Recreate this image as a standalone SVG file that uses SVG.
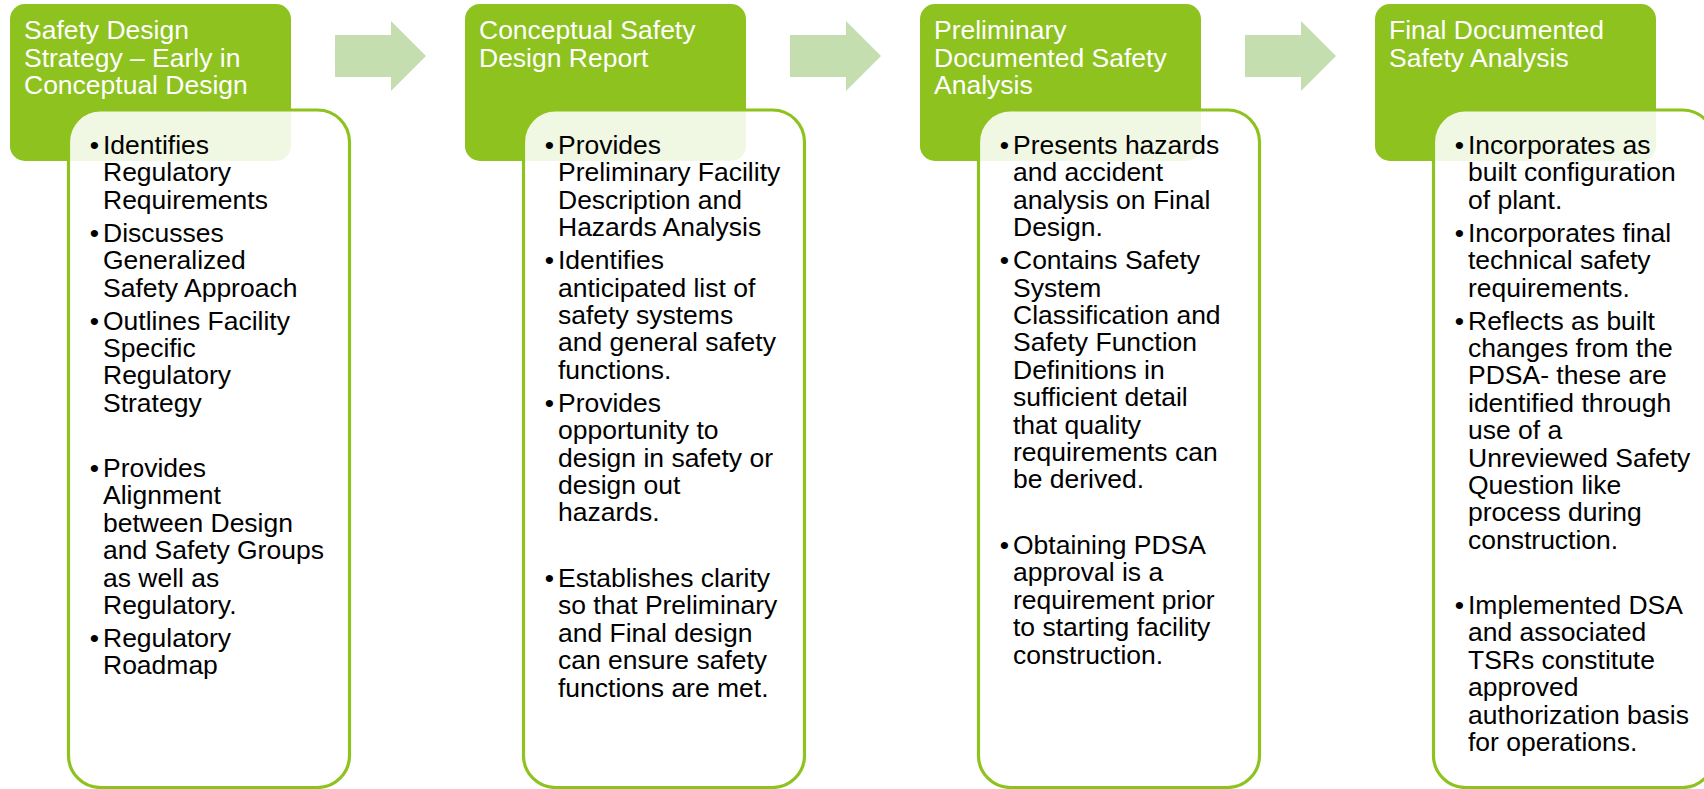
<svg xmlns="http://www.w3.org/2000/svg" width="1704" height="789" viewBox="0 0 1704 789">
<style>
.hd{fill:#8DC21F}
.bd{fill:#ffffff;fill-opacity:0.87;stroke:#8DC21F;stroke-width:3.2}
.ar{fill:#C5DEAF}
.ht{font-family:"Liberation Sans",Arial,sans-serif;font-size:25px;fill:#ffffff}
.bt{font-family:"Liberation Sans",Arial,sans-serif;font-size:25px;fill:#000000}
</style>
<rect width="1704" height="789" fill="#ffffff"/>
<g id="connectors">
<polygon class="ar" points="335,35 391,35 391,21 426,56 391,91 391,77 335,77"/>
<polygon class="ar" points="790,35 846,35 846,21 881,56 846,91 846,77 790,77"/>
<polygon class="ar" points="1245,35 1301,35 1301,21 1336,56 1301,91 1301,77 1245,77"/>
</g>
<g id="node1">
<rect class="hd" x="10" y="4" width="281" height="157" rx="15"/>
<g transform="translate(24,0) scale(1.06,1)"><text class="ht"><tspan x="0" y="39.3">Safety Design</tspan><tspan x="0" y="66.7">Strategy – Early in</tspan><tspan x="0" y="94.3">Conceptual Design</tspan></text></g>
<rect class="bd" x="68.5" y="110" width="281" height="677.5" rx="32"/>
<g transform="translate(103,0) scale(1.06,1)">
<text class="bt"><tspan x="-12.5" y="154">•</tspan><tspan x="-12.5" y="241.8">•</tspan><tspan x="-12.5" y="329.6">•</tspan><tspan x="-12.5" y="477">•</tspan><tspan x="-12.5" y="647">•</tspan></text>
<text class="bt"><tspan x="0" y="154">Identifies</tspan><tspan x="0" y="181.4">Regulatory</tspan><tspan x="0" y="208.8">Requirements</tspan><tspan x="0" y="241.8">Discusses</tspan><tspan x="0" y="269.2">Generalized</tspan><tspan x="0" y="296.6">Safety Approach</tspan><tspan x="0" y="329.6">Outlines Facility</tspan><tspan x="0" y="357">Specific</tspan><tspan x="0" y="384.4">Regulatory</tspan><tspan x="0" y="411.8">Strategy</tspan><tspan x="0" y="477">Provides</tspan><tspan x="0" y="504.4">Alignment</tspan><tspan x="0" y="531.8">between Design</tspan><tspan x="0" y="559.2">and Safety Groups</tspan><tspan x="0" y="586.6">as well as</tspan><tspan x="0" y="614">Regulatory.</tspan><tspan x="0" y="647">Regulatory</tspan><tspan x="0" y="674.4">Roadmap</tspan></text>
</g>
</g>
<g id="node2">
<rect class="hd" x="465" y="4" width="281" height="157" rx="15"/>
<g transform="translate(479,0) scale(1.06,1)"><text class="ht"><tspan x="0" y="39.3">Conceptual Safety</tspan><tspan x="0" y="66.7">Design Report</tspan></text></g>
<rect class="bd" x="523.5" y="110" width="281" height="677.5" rx="32"/>
<g transform="translate(558,0) scale(1.06,1)">
<text class="bt"><tspan x="-12.5" y="154">•</tspan><tspan x="-12.5" y="269.2">•</tspan><tspan x="-12.5" y="411.8">•</tspan><tspan x="-12.5" y="587">•</tspan></text>
<text class="bt"><tspan x="0" y="154">Provides</tspan><tspan x="0" y="181.4">Preliminary Facility</tspan><tspan x="0" y="208.8">Description and</tspan><tspan x="0" y="236.2">Hazards Analysis</tspan><tspan x="0" y="269.2">Identifies</tspan><tspan x="0" y="296.6">anticipated list of</tspan><tspan x="0" y="324">safety systems</tspan><tspan x="0" y="351.4">and general safety</tspan><tspan x="0" y="378.8">functions.</tspan><tspan x="0" y="411.8">Provides</tspan><tspan x="0" y="439.2">opportunity to</tspan><tspan x="0" y="466.6">design in safety or</tspan><tspan x="0" y="494">design out</tspan><tspan x="0" y="521.4">hazards.</tspan><tspan x="0" y="587">Establishes clarity</tspan><tspan x="0" y="614.4">so that Preliminary</tspan><tspan x="0" y="641.8">and Final design</tspan><tspan x="0" y="669.2">can ensure safety</tspan><tspan x="0" y="696.6">functions are met.</tspan></text>
</g>
</g>
<g id="node3">
<rect class="hd" x="920" y="4" width="281" height="157" rx="15"/>
<g transform="translate(934,0) scale(1.06,1)"><text class="ht"><tspan x="0" y="39.3">Preliminary</tspan><tspan x="0" y="66.7">Documented Safety</tspan><tspan x="0" y="94.3">Analysis</tspan></text></g>
<rect class="bd" x="978.5" y="110" width="281" height="677.5" rx="32"/>
<g transform="translate(1013,0) scale(1.06,1)">
<text class="bt"><tspan x="-12.5" y="154">•</tspan><tspan x="-12.5" y="269.2">•</tspan><tspan x="-12.5" y="554">•</tspan></text>
<text class="bt"><tspan x="0" y="154">Presents hazards</tspan><tspan x="0" y="181.4">and accident</tspan><tspan x="0" y="208.8">analysis on Final</tspan><tspan x="0" y="236.2">Design.</tspan><tspan x="0" y="269.2">Contains Safety</tspan><tspan x="0" y="296.6">System</tspan><tspan x="0" y="324">Classification and</tspan><tspan x="0" y="351.4">Safety Function</tspan><tspan x="0" y="378.8">Definitions in</tspan><tspan x="0" y="406.2">sufficient detail</tspan><tspan x="0" y="433.6">that quality</tspan><tspan x="0" y="461">requirements can</tspan><tspan x="0" y="488.4">be derived.</tspan><tspan x="0" y="554">Obtaining PDSA</tspan><tspan x="0" y="581.4">approval is a</tspan><tspan x="0" y="608.8">requirement prior</tspan><tspan x="0" y="636.2">to starting facility</tspan><tspan x="0" y="663.6">construction.</tspan></text>
</g>
</g>
<g id="node4">
<rect class="hd" x="1375" y="4" width="281" height="157" rx="15"/>
<g transform="translate(1389,0) scale(1.06,1)"><text class="ht"><tspan x="0" y="39.3">Final Documented</tspan><tspan x="0" y="66.7">Safety Analysis</tspan></text></g>
<rect class="bd" x="1433.5" y="110" width="281" height="677.5" rx="32"/>
<g transform="translate(1468,0) scale(1.06,1)">
<text class="bt"><tspan x="-12.5" y="154">•</tspan><tspan x="-12.5" y="241.8">•</tspan><tspan x="-12.5" y="329.6">•</tspan><tspan x="-12.5" y="614">•</tspan></text>
<text class="bt"><tspan x="0" y="154">Incorporates as</tspan><tspan x="0" y="181.4">built configuration</tspan><tspan x="0" y="208.8">of plant.</tspan><tspan x="0" y="241.8">Incorporates final</tspan><tspan x="0" y="269.2">technical safety</tspan><tspan x="0" y="296.6">requirements.</tspan><tspan x="0" y="329.6">Reflects as built</tspan><tspan x="0" y="357">changes from the</tspan><tspan x="0" y="384.4">PDSA- these are</tspan><tspan x="0" y="411.8">identified through</tspan><tspan x="0" y="439.2">use of a</tspan><tspan x="0" y="466.6">Unreviewed Safety</tspan><tspan x="0" y="494">Question like</tspan><tspan x="0" y="521.4">process during</tspan><tspan x="0" y="548.8">construction.</tspan><tspan x="0" y="614">Implemented DSA</tspan><tspan x="0" y="641.4">and associated</tspan><tspan x="0" y="668.8">TSRs constitute</tspan><tspan x="0" y="696.2">approved</tspan><tspan x="0" y="723.6">authorization basis</tspan><tspan x="0" y="751">for operations.</tspan></text>
</g>
</g>
</svg>
